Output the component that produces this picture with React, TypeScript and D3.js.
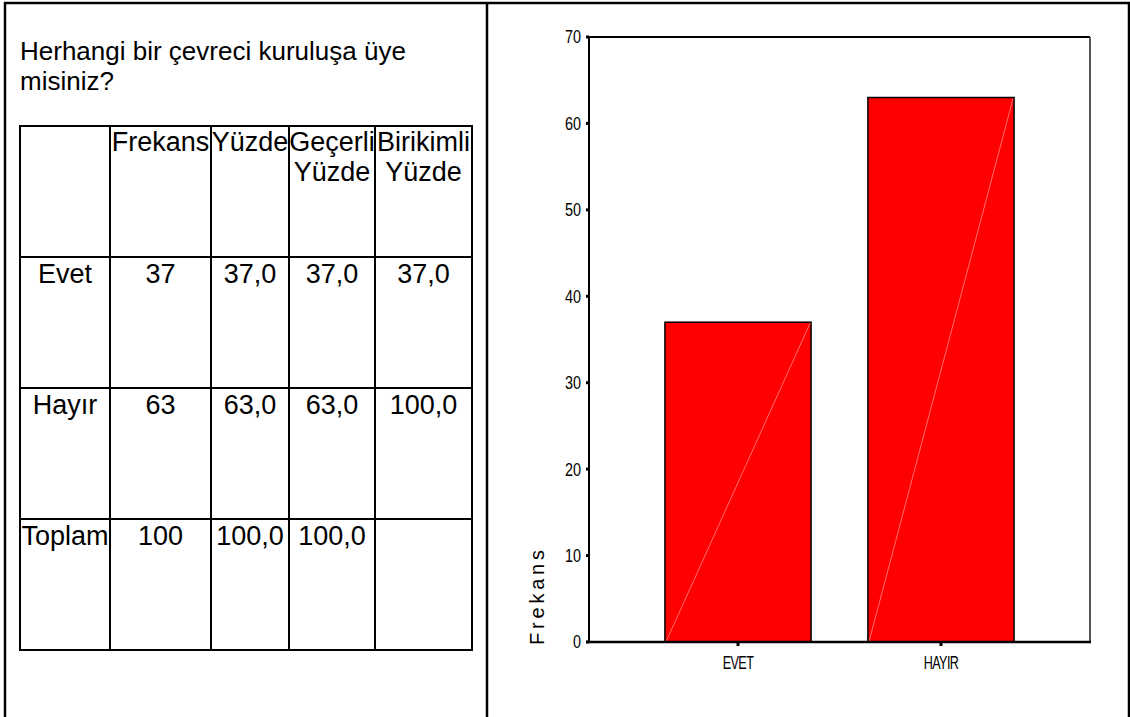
import React from "react";
import * as d3 from "d3";

const title = ["Herhangi bir çevreci kuruluşa üye", "misiniz?"];
const headers: string[][] = [[""], ["Frekans"], ["Yüzde"], ["Geçerli", "Yüzde"], ["Birikimli", "Yüzde"]];
const rowLabels = ["Evet", "Hayır", "Toplam"];
const frequencies = [37, 63];
const total = 100;
const percentText = ["37,0", "63,0", "100,0"];
const validText = ["37,0", "63,0", "100,0"];
const cumulativeText = ["37,0", "100,0", ""];
const chartCategories = ["EVET", "HAYIR"];
const yTicks = [0, 10, 20, 30, 40, 50, 60, 70];
const yLabel = "Frekans";

const W = 1130;
const H = 717;
const colEdges = [20, 110, 211, 289, 375, 472];
const rowEdges = [126, 257, 388, 519, 650];

export default function App() {
  const x = d3
    .scaleBand<string>()
    .domain(chartCategories)
    .range([589, 1090])
    .paddingInner(0.28)
    .paddingOuter(0.374);
  const y = d3.scaleLinear().domain([0, 70]).range([642, 37]);

  const rows: string[][] = rowLabels.map((r, i) => [
    r,
    i < frequencies.length ? String(frequencies[i]) : String(total),
    percentText[i],
    validText[i],
    cumulativeText[i],
  ]);

  const tableFont = "'Liberation Sans', Arial, sans-serif";
  const narrow = "'Liberation Sans', Arial, sans-serif";

  return (
    <svg
      width={W}
      height={H}
      style={{ position: "absolute", left: 0, top: 0, background: "#fff" }}
    >
      <rect x={0} y={0} width={W} height={H} fill="#fff" />
      {/* outer frame */}
      <line x1={4} x2={1130} y1={3} y2={3} stroke="#000" strokeWidth={2.5} />
      <line x1={5} x2={5} y1={2} y2={H} stroke="#000" strokeWidth={2.5} />
      <line x1={487} x2={487} y1={2} y2={H} stroke="#000" strokeWidth={2.5} />
      <line x1={1129} x2={1129} y1={2} y2={H} stroke="#000" strokeWidth={2.5} />

      {/* title */}
      {title.map((t, i) => (
        <text key={t} x={20} y={60 + i * 30} fontFamily={tableFont} fontSize={26} fill="#000">
          {t}
        </text>
      ))}

      {/* table grid */}
      {colEdges.map((cx) => (
        <line key={"c" + cx} x1={cx} x2={cx} y1={rowEdges[0] - 1} y2={rowEdges[rowEdges.length - 1] + 1} stroke="#000" strokeWidth={2} />
      ))}
      {rowEdges.map((ry) => (
        <line key={"r" + ry} x1={colEdges[0] - 1} x2={colEdges[colEdges.length - 1] + 1} y1={ry} y2={ry} stroke="#000" strokeWidth={2} />
      ))}
      {headers.map((lines, ci) =>
        lines.map((t, li) => (
          <text
            key={"h" + ci + li}
            x={(colEdges[ci] + colEdges[ci + 1]) / 2}
            y={rowEdges[0] + 25 + li * 30}
            textAnchor="middle"
            fontFamily={tableFont}
            fontSize={27}
            fill="#000"
          >
            {t}
          </text>
        ))
      )}
      {rows.map((r, ri) =>
        r.map((t, ci) => (
          <text
            key={"t" + ri + ci}
            x={(colEdges[ci] + colEdges[ci + 1]) / 2}
            y={rowEdges[ri + 1] + 26}
            textAnchor="middle"
            fontFamily={tableFont}
            fontSize={27}
            fill="#000"
          >
            {t}
          </text>
        ))
      )}

      {/* chart */}
      {chartCategories.map((c, i) => {
        const x0 = x(c)!;
        const bw = x.bandwidth();
        const yTop = y(frequencies[i]);
        const yBot = y(0);
        return (
          <g key={c}>
            <rect x={x0} y={yTop} width={bw} height={yBot - yTop} fill="#ff0000" stroke="#000" strokeWidth={1.5} />
            <line x1={x0 + 1} y1={yBot} x2={x0 + bw - 1} y2={yTop + 1} stroke="#ff8a8a" strokeWidth={0.8} />
          </g>
        );
      })}
      {/* frame */}
      <line x1={589} x2={1090} y1={y(70)} y2={y(70)} stroke="#000" strokeWidth={2} />
      <line x1={1090} x2={1090} y1={y(70)} y2={y(0)} stroke="#555" strokeWidth={2} />
      <line x1={589} x2={589} y1={y(70)} y2={y(0)} stroke="#000" strokeWidth={2} />
      <line x1={586} x2={1091} y1={y(0)} y2={y(0)} stroke="#000" strokeWidth={2.5} />
      {yTicks.map((t) => (
        <g key={"yt" + t}>
          <rect x={586} y={y(t) - 1.5} width={3} height={3} fill="#000" />
          <text
            transform={`translate(581, ${y(t)}) scale(0.8, 1)`}
            dy="0.36em"
            textAnchor="end"
            fontFamily={narrow}
            fontSize={18}
            fill="#000"
          >
            {t}
          </text>
        </g>
      ))}
      {chartCategories.map((c) => (
        <g key={"xt" + c}>
          <rect x={x(c)! + x.bandwidth() / 2 - 1.5} y={y(0) + 1} width={3} height={3} fill="#000" />
          <text
            transform={`translate(${x(c)! + x.bandwidth() / 2}, ${y(0) + 27}) scale(0.7, 1)`}
            textAnchor="middle"
            fontFamily={narrow}
            fontSize={18}
            letterSpacing={-0.8}
            fill="#000"
          >
            {c}
          </text>
        </g>
      ))}
      <text
        transform={`translate(544, ${y(0) + 3}) rotate(-90)`}
        textAnchor="start"
        fontFamily={tableFont}
        fontSize={20}
        letterSpacing={3.8}
        fill="#000"
      >
        {yLabel}
      </text>
    </svg>
  );
}
